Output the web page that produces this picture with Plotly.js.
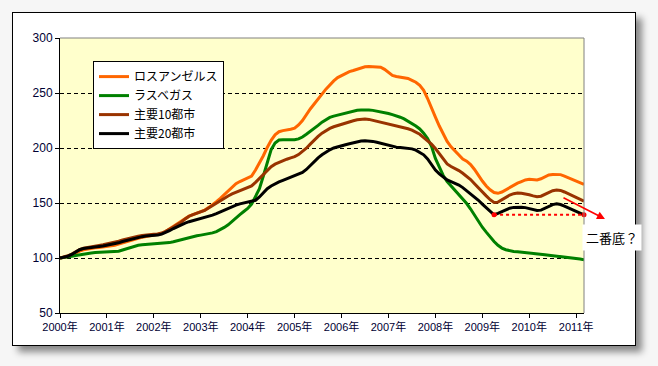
<!DOCTYPE html>
<html>
<head>
<meta charset="utf-8">
<script src="https://cdn.plot.ly/plotly-3.0.1.min.js"></script>
<style>
  html, body { margin: 0; padding: 0; background: #ffffff; }
  #wrap { position: relative; width: 658px; height: 366px; overflow: hidden; background: #f6f6f6; }
  #frame { position: absolute; left: 12px; top: 12px; width: 624px; height: 334px; box-sizing: border-box;
           border: 1px solid #000; background: #fff; box-shadow: 6px 6px 7px rgba(0,0,0,0.45); }
  #chart { position: absolute; left: 0; top: 0; width: 658px; height: 366px; }
</style>
</head>
<body>
<div id="wrap">
  <div id="frame"></div>
  <div id="chart"></div>
</div>
<script>
// Monthly index values, Jan 2000 = 100 (Jan 2000 .. Mar 2011)
const startYear = 2000;
const seriesNames = ['ロスアンゼルス', 'ラスベガス', '主要10都市', '主要20都市'];
const seriesColors = ['#FF6600', '#008000', '#993300', '#000000'];

const losAngeles = [
  100.0, 100.5, 101.3, 102.6, 104.5, 106.3, 107.5, 108.2, 108.7, 109.2, 109.6, 110.0,
  110.3, 110.8, 111.6, 112.6, 113.8, 115.0, 116.0, 117.0, 118.0, 118.8, 119.5, 120.0,
  120.5, 121.1, 122.2, 124.0, 126.3, 128.8, 131.3, 133.8, 136.0, 138.0, 139.5, 140.8,
  142.0, 143.6, 145.8, 148.3, 151.2, 154.2, 157.5, 161.0, 164.5, 167.5, 169.5, 171.0,
  172.5, 174.5, 180.0, 186.0, 193.0, 200.5, 207.0, 212.0, 214.8, 215.8, 216.3, 217.0,
  218.0, 221.0, 225.0, 230.5, 235.5, 240.0, 244.0, 249.0, 253.5, 257.5, 261.0, 264.0,
  266.0, 268.0, 269.5, 270.5, 271.5, 272.8, 273.8, 274.0, 274.0, 273.9, 273.5, 271.5,
  268.5, 266.0, 265.0, 264.2, 263.8, 263.2, 261.5, 259.8, 257.0, 252.5, 245.0, 236.0,
  228.0, 220.0, 213.0, 206.0, 201.0, 197.0, 193.0, 190.0, 188.0, 185.0, 180.5, 175.0,
  170.0, 165.5, 162.0, 159.5, 158.8, 160.0, 162.0, 164.5, 166.5, 168.0, 169.5, 171.0,
  171.5, 171.0, 171.0, 172.0, 174.0, 175.5, 176.0, 176.2, 175.8, 174.5, 173.0, 171.5,
  170.0, 168.5, 167.0
];
const lasVegas = [
  100.0, 100.3, 100.8, 101.5, 102.3, 103.0, 103.5, 104.0, 104.6, 105.0, 105.2, 105.3,
  105.4, 105.5, 105.6, 106.2, 107.3, 108.5, 109.7, 110.8, 111.6, 112.0, 112.2, 112.4,
  112.6, 112.8, 113.1, 113.5, 114.0, 114.8, 115.8, 116.8, 117.8, 118.8, 119.6, 120.2,
  120.8, 121.3, 121.8, 122.8, 124.0, 125.8, 127.8, 130.2, 133.5, 136.8, 139.5, 142.3,
  145.0, 149.0, 156.0, 163.0, 174.5, 187.0, 198.5, 204.5, 207.2, 207.5, 207.3, 207.2,
  207.5, 208.3, 210.0, 212.5, 215.0, 218.0, 220.5, 223.5, 226.0, 227.8, 229.0, 230.0,
  231.0, 232.0, 233.0, 233.8, 234.3, 234.6, 234.8, 234.6, 234.2, 233.6, 233.0, 232.3,
  231.4, 230.3, 229.3, 228.0, 226.5, 224.5, 222.5, 220.0, 217.3, 213.5, 208.5, 201.5,
  190.5, 182.0, 175.0, 169.5, 165.5, 162.0, 158.0, 154.0, 149.5, 144.5, 139.0, 133.0,
  128.0, 123.5, 119.0, 115.0, 111.5, 109.0, 107.5, 106.5, 106.0, 105.6, 105.3, 105.0,
  104.8, 104.4, 104.0, 103.5, 103.0, 102.6, 102.2, 101.8, 101.5, 101.2, 100.8, 100.2,
  99.5, 99.0, 98.4
];
const composite10 = [
  100.0, 100.8, 102.0, 103.6, 105.8, 107.6, 108.8, 109.6, 110.2, 110.8, 111.4, 112.0,
  112.7, 113.4, 114.2, 115.2, 116.3, 117.3, 118.2, 119.0, 119.8, 120.4, 121.0, 121.4,
  121.6, 121.9, 122.7, 124.2, 126.0, 128.2, 130.5, 132.5, 135.5, 138.0, 139.5, 140.6,
  141.7, 143.2, 145.4, 147.7, 150.0, 152.2, 154.4, 156.4, 158.2, 159.6, 160.8, 162.0,
  163.4, 165.5, 168.8, 172.5, 176.4, 180.0, 183.0, 185.3, 187.0, 188.5, 189.8, 191.0,
  192.1, 194.0, 196.5, 199.8, 203.5, 207.3, 210.5, 213.5, 216.0, 217.8, 219.3, 220.5,
  221.8, 222.8, 223.8, 224.8, 225.6, 226.1, 226.3, 226.0, 225.2, 224.3, 223.5, 222.8,
  221.8, 220.8, 220.2, 219.5, 218.6, 217.5, 216.2, 214.5, 212.5, 209.5, 206.5, 203.5,
  199.5, 195.0, 190.2, 185.5, 183.2, 181.5, 179.5, 177.0, 174.5, 171.3, 167.5, 163.5,
  160.0, 156.5, 153.0, 150.5, 150.8, 152.8, 155.3, 157.2, 158.5, 159.0, 158.8, 158.4,
  157.5, 156.5, 155.8, 156.2, 158.0, 159.8, 161.2, 161.9, 161.4, 160.0, 158.3, 156.5,
  154.8, 153.0, 151.6
];
const composite20 = [
  100.0, 100.6, 101.6, 103.2, 105.5, 107.5, 108.6, 109.2, 109.6, 110.0, 110.4, 110.9,
  111.5, 112.2, 113.0, 113.8, 115.0, 116.0, 116.8, 117.6, 118.6, 119.4, 120.0, 120.3,
  120.4, 120.8, 121.7, 123.0, 124.8, 126.8, 128.7, 130.4, 131.8, 133.0, 134.0, 134.8,
  135.5, 136.5, 137.8, 139.0, 140.4, 142.0, 143.6, 145.2, 146.6, 148.0, 149.2, 150.2,
  151.0, 151.6, 152.5, 155.5, 159.5, 163.0, 165.5, 167.5, 169.2, 170.6, 172.0, 173.2,
  174.4, 175.8, 177.8, 180.5, 184.0, 187.8, 191.0, 193.8, 196.3, 198.4, 200.0, 201.2,
  202.2, 203.0, 203.8, 204.8, 205.8, 206.4, 206.6, 206.5, 206.0, 205.2, 204.2, 203.3,
  202.2, 201.4, 200.8, 200.4, 200.2, 199.8, 199.2, 198.0, 196.0, 193.8, 190.0, 185.0,
  180.0, 176.5, 173.5, 171.0, 169.4, 168.0, 166.3, 164.0, 161.2, 158.5, 155.5, 152.5,
  149.0, 145.5, 142.0, 139.3, 140.5, 142.3, 144.0, 145.3, 146.0, 146.3, 146.2, 145.8,
  145.0, 144.0, 143.2, 143.5, 145.0, 146.8, 148.5, 149.2, 148.6, 147.2, 145.6, 144.2,
  142.5, 140.6, 139.2
];
const tickYears = [2000, 2001, 2002, 2003, 2004, 2005, 2006, 2007, 2008, 2009, 2010, 2011];
const tickLabels = ['2000年', '2001年', '2002年', '2003年', '2004年', '2005年', '2006年', '2007年', '2008年', '2009年', '2010年', '2011年'];
const yTicks = [50, 100, 150, 200, 250, 300];

// Second-dip reference: April 2009 trough of the 20-city index vs latest month
const troughIndex = 111;
const noteText = '二番底？';

const allSeries = [losAngeles, lasVegas, composite10, composite20];
const months = composite20.map((_, i) => startYear + i / 12);
const lastX = months[months.length - 1];

const traces = allSeries.map((vals, k) => ({
  type: 'scatter', mode: 'lines', x: months, y: vals,
  name: seriesNames[k],
  line: { color: seriesColors[k], width: 3 },
  hoverinfo: 'skip'
}));

const troughLevel = composite20[troughIndex];
traces.push({
  type: 'scatter', mode: 'lines+markers',
  x: [months[troughIndex], lastX], y: [troughLevel, troughLevel],
  line: { color: '#FF0000', width: 2, dash: 'dot' },
  marker: { color: '#FF0000', size: 5 },
  showlegend: false, hoverinfo: 'skip', cliponaxis: false
});

const baseFont = 'Liberation Sans, Arial, Noto Sans CJK JP, sans-serif';
const layout = {
  width: 658, height: 366,
  margin: { l: 60, r: 74, t: 38, b: 53 },
  paper_bgcolor: 'rgba(0,0,0,0)',
  plot_bgcolor: '#FFFFCC',
  font: { family: baseFont, size: 11, color: '#000033' },
  showlegend: true,
  legend: {
    x: 0.063, y: 0.916, xanchor: 'left', yanchor: 'top',
    bgcolor: '#FFFFFF', bordercolor: '#000000', borderwidth: 1,
    font: { family: 'Noto Sans CJK JP, sans-serif', size: 12, color: '#000000' },
    itemwidth: 30, traceorder: 'normal'
  },
  xaxis: {
    range: [startYear, lastX], tickvals: tickYears, ticktext: tickLabels,
    showgrid: false, zeroline: false,
    showline: true, linecolor: '#000000', linewidth: 1,
    ticks: 'outside', ticklen: 4, tickcolor: '#000000',
    tickfont: { family: baseFont, size: 11, color: '#000033' }
  },
  yaxis: {
    range: [50, 300], tickvals: yTicks,
    showgrid: true, gridcolor: '#000000', gridwidth: 1, griddash: '4px,3px',
    zeroline: false,
    showline: true, linecolor: '#000000', linewidth: 1,
    ticks: 'outside', ticklen: 4, tickcolor: '#000000',
    tickfont: { family: baseFont, size: 12, color: '#000033' }
  },
  shapes: [
    { type: 'line', xref: 'paper', yref: 'paper', x0: 0, x1: 1, y0: 1, y1: 1,
      line: { color: '#808080', width: 1 }, layer: 'above' },
    { type: 'line', xref: 'paper', yref: 'paper', x0: 1, x1: 1, y0: 0, y1: 1,
      line: { color: '#808080', width: 1 }, layer: 'above' }
  ],
  annotations: [
    { xref: 'paper', yref: 'paper', axref: 'paper', ayref: 'paper',
      x: 1.040, y: 0.3418, ax: 0.958, ay: 0.4218,
      text: '', showarrow: true, arrowhead: 2, arrowsize: 1, arrowwidth: 1.6, arrowcolor: '#FF0000' },
    { xref: 'paper', yref: 'paper', x: 1.053, y: 0.273, xanchor: 'center', yanchor: 'middle',
      text: noteText, showarrow: false,
      bgcolor: '#FFFFFF', borderpad: 3,
      font: { family: 'Noto Sans CJK JP, sans-serif', size: 13, color: '#000000' } }
  ]
};

Plotly.newPlot('chart', traces, layout, { displayModeBar: false, staticPlot: true });
</script>
</body>
</html>
